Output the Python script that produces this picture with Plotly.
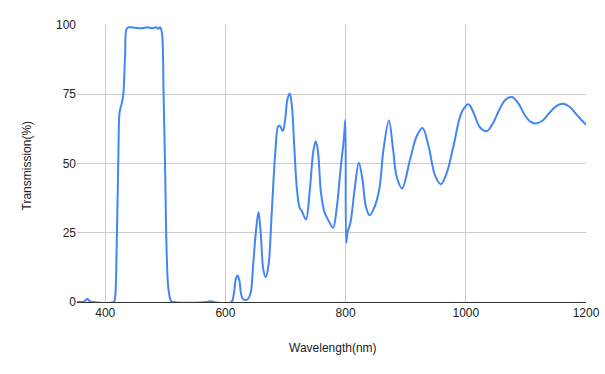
import plotly.graph_objects as go

wavelength = [353, 362, 366, 370, 374, 378, 414, 416, 419, 422, 424, 427.6, 430, 433, 436, 441, 450, 460, 470, 478, 485, 488, 491,
              494, 497, 499.5, 502, 505, 509, 512, 570, 575, 580, 610, 614, 617, 620, 623, 626, 629.6, 637, 642, 646, 651,
              655, 659, 663, 667, 671.5, 677, 683, 688, 691, 695.5, 699.5, 703, 707, 710.6, 714.5, 719, 723.5, 727, 734,
              740, 746, 750, 753.6, 759, 765, 772, 779, 785, 791.6, 797, 799.5, 801, 803, 808, 815, 822, 828, 833.5, 840,
              847.5, 856, 863, 872, 879, 885, 894, 907, 918.6, 928, 938, 949, 958.5, 968.4, 979.5, 993, 1004.4,
              1012.7, 1023.8, 1035, 1045, 1056, 1066, 1077, 1088, 1098, 1108, 1118, 1128, 1140, 1151, 1162, 1172,
              1182, 1192, 1200]
transmission = [0, 0, 0.3, 1.2, 0.3, 0, 0, 1, 19.5, 55, 68.7, 71.8, 74.8, 89, 98.8, 99.2, 99, 98.8, 99.2, 98.8, 99.2, 98.6, 99.2,
                97.6, 76, 49.5, 19.5, 5, 0.5, 0, 0, 0.3, 0, 0, 3, 8, 9.6, 8, 3, 1, 1, 3.4, 13, 26,
                32.5, 24, 11.8, 9, 13, 32, 54, 63.5, 63.5, 61.7, 66, 73, 75.3, 70.8, 56.3, 40.7, 34, 32.9, 29.8,
                39.5, 54, 58, 55, 39.5, 32.3, 29.2, 26.8, 33.5, 48, 58.7, 65.7, 21.4, 25, 28.6, 40.7, 50.3, 44.3, 34.7, 31.3,
                34, 40.7, 55, 65.5, 55, 45.2, 41, 51.3, 60, 62.8, 56.3, 45.5, 42.5, 46.7, 56.3, 68.4, 71.4,
                68.4, 63, 61.7, 64.5, 69.5, 73, 74, 71.5, 67.5, 65, 64.5, 65.5, 68.5, 70.8, 71.6, 70.6,
                68.3, 65.8, 64]

x_ticks = [400, 600, 800, 1000, 1200]
y_ticks = [0, 25, 50, 75, 100]

FONT = "Liberation Sans, Arial, sans-serif"

fig = go.Figure(go.Scatter(
    x=wavelength, y=transmission, mode="lines",
    line=dict(color="#4285F4", width=2, shape="spline", smoothing=1.0),
    hoverinfo="skip", showlegend=False))

fig.update_layout(
    width=605, height=374,
    margin=dict(l=77, r=19, t=25, b=72, autoexpand=False),
    paper_bgcolor="white", plot_bgcolor="white",
    font=dict(family=FONT, size=12, color="#444"),
    xaxis=dict(range=[353, 1200], tickvals=x_ticks, ticktext=[str(v) for v in x_ticks],
               automargin=False,
               showgrid=True, gridcolor="#cccccc", gridwidth=1, zeroline=False,
               showline=True, linecolor="#333333", linewidth=1, ticks="",
               tickfont=dict(family=FONT, size=12, color="#222")),
    yaxis=dict(range=[0, 100], tickvals=y_ticks, ticktext=[str(v) for v in y_ticks],
               automargin=False,
               showgrid=True, gridcolor="#cccccc", gridwidth=1, zeroline=False,
               showline=False, ticks="",
               tickfont=dict(family=FONT, size=12, color="#222")),
    annotations=[
        dict(text="Wavelength(nm)", xref="paper", yref="paper", x=0.503, y=-0.166,
             showarrow=False, font=dict(family=FONT, size=12, color="#222"), xanchor="center", yanchor="middle"),
        dict(text="Transmission(%)", xref="paper", yref="paper", x=-0.0992, y=0.491, textangle=-90,
             showarrow=False, font=dict(family=FONT, size=12, color="#222"), xanchor="center", yanchor="middle"),
    ],
)

fig.write_html("out.html")
